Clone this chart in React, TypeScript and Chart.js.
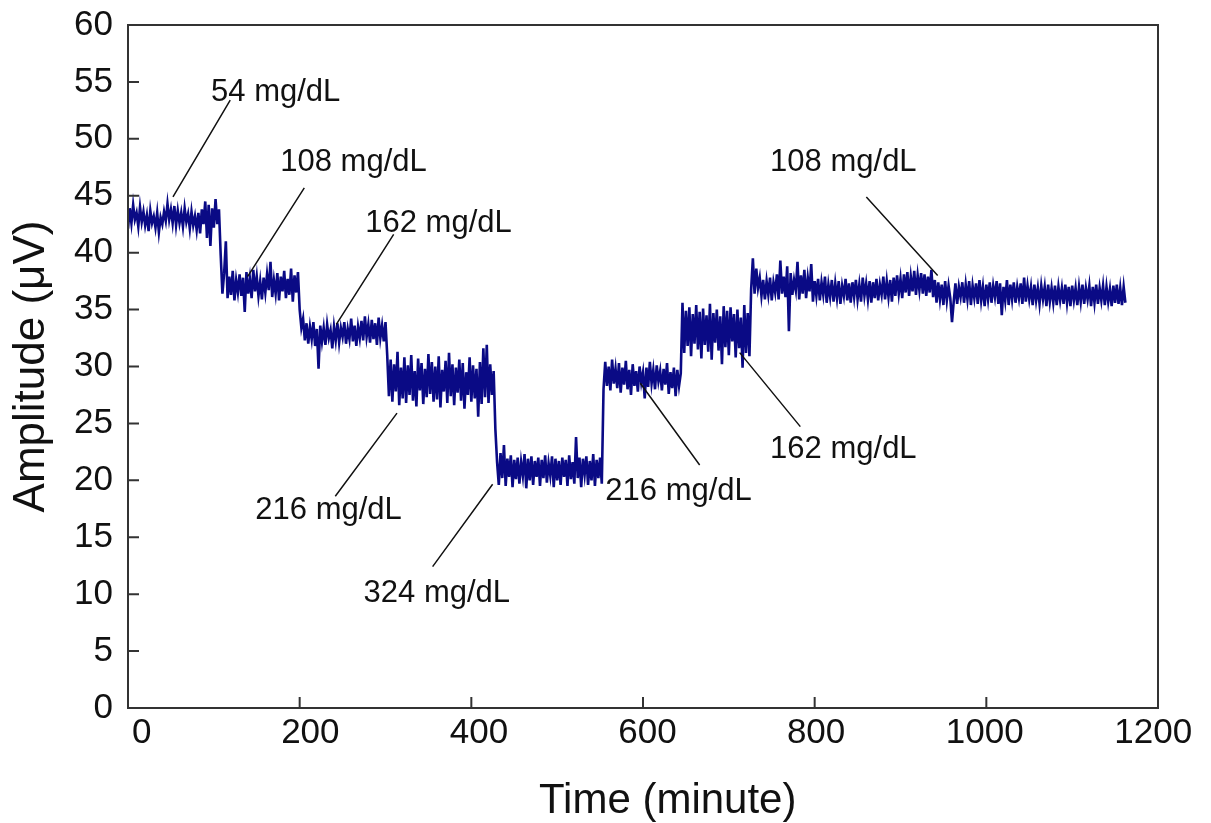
import React, { useEffect, useRef } from 'react';
import { Chart, registerables, Plugin } from 'chart.js';

Chart.register(...registerables);

const FONT = '"Liberation Sans", Arial, Helvetica, sans-serif';
const LINE_COLOR = '#0a0a85';

// amplitude (µV) sampled every 2 minutes, one array per glucose plateau
const SAMPLE_MINUTES = 2;

const level54 = [
  42.1, 43.9, 42.6, 44.2, 42.9, 43.5, 42.3, 44.0, 42.7, 43.6,
  42.4, 43.3, 41.9, 43.7, 42.6, 43.2, 42.2, 43.5, 41.8, 43.1,
  42.5, 43.6, 42.8, 44.3, 42.9, 43.8, 42.6, 44.1, 42.4, 43.7,
  42.6, 43.5, 42.3, 43.9, 42.7, 43.4, 42.1, 43.6, 42.4, 43.2,
  42.0, 43.5, 41.7, 43.8, 42.5, 44.5, 41.3, 44.2, 40.6, 43.9,
  42.2, 44.7, 42.5, 43.8,
];

const level108 = [
  39.8, 36.4, 38.2, 41.0, 36.0, 37.9, 36.3, 38.4, 35.8, 37.6,
  36.5, 38.1, 36.2, 37.8, 34.8, 38.3, 36.4, 37.7, 36.0, 38.5,
  36.6, 37.9, 36.2, 37.5, 35.9, 37.8, 36.5, 38.1, 36.7, 39.2,
  36.1, 37.6, 36.4, 38.2, 35.8, 37.9, 36.6, 38.4, 36.0, 37.7,
  36.3, 38.6, 35.7, 38.0, 36.5, 38.3,
];

const level162 = [
  35.0, 33.4, 34.2, 32.3, 33.8, 32.0, 33.5, 32.4, 33.9, 31.8,
  33.3, 29.8, 33.6, 32.2, 33.4, 31.9, 33.7, 32.5, 33.2, 31.6,
  33.5, 32.3, 33.8, 32.1, 33.4, 32.6, 33.9, 32.0, 33.3, 32.4,
  34.2, 32.2, 33.6, 31.8, 33.5, 32.5, 34.0, 32.3, 34.4, 32.6,
  33.7, 32.1, 34.1, 32.4, 33.8, 31.9, 34.3, 32.5, 33.6, 32.2,
  33.9,
];

const level216 = [
  31.0, 27.4, 30.6, 26.9, 30.2, 27.8, 31.3, 26.6, 29.9, 27.2,
  30.8, 26.8, 30.1, 27.5, 31.0, 27.0, 29.6, 26.5, 30.7, 27.9,
  30.3, 26.7, 29.8, 27.3, 31.1, 27.6, 30.4, 26.9, 30.0, 27.1,
  30.9, 26.4, 29.7, 27.8, 30.5, 26.8, 31.2, 27.4, 30.2, 26.6,
  29.9, 27.7, 30.6, 27.0, 30.3, 26.3, 29.5, 27.5, 30.8, 26.9,
  30.1, 27.2, 29.8, 25.6, 30.4, 26.7, 31.6, 27.3, 31.9, 26.8,
  30.2, 27.5, 29.6,
];

const level324 = [
  24.5, 21.6, 19.6, 22.4, 20.2, 23.1, 19.5, 21.9, 20.3, 22.2,
  19.4, 21.8, 20.1, 22.0, 19.7, 21.6, 20.4, 22.3, 19.3, 21.9,
  20.0, 22.1, 19.6, 21.7, 20.3, 22.0, 19.5, 21.8, 20.2, 22.2,
  19.8, 21.5, 20.4, 22.1, 19.4, 21.9, 20.0, 21.7, 19.6, 22.0,
  20.3, 21.8, 19.5, 22.2, 20.1, 21.6, 19.7, 23.8, 20.2, 22.0,
  19.4, 21.9, 20.5, 22.1, 19.6, 21.7, 20.0, 22.3, 19.5, 21.8,
  20.2, 22.0, 19.7,
];

const level216b = [
  28.0, 30.4, 28.3, 30.0, 27.9, 30.6, 28.5, 29.8, 28.1, 30.3,
  27.7, 29.9, 28.4, 30.5, 28.0, 29.7, 27.5, 30.2, 28.3, 29.6,
  27.8, 30.0, 28.6, 29.5, 27.2, 29.9, 28.2, 30.4, 28.5, 29.7,
  28.0, 30.1, 28.7, 29.6, 27.9, 29.8, 28.4, 30.3, 27.6, 29.5,
  28.1, 29.9, 27.4, 29.7, 28.3, 29.4,
];

const level162b = [
  35.6, 31.2, 34.9, 31.8, 35.2, 30.9, 34.6, 32.0, 35.4, 31.5,
  34.8, 30.7, 35.1, 31.9, 34.5, 31.3, 35.5, 30.6, 34.7, 32.1,
  35.0, 31.4, 34.4, 30.2, 35.3, 31.7, 34.9, 31.0, 35.2, 32.2,
  34.6, 30.8, 35.0, 31.6, 34.3, 29.9, 35.4, 31.2, 34.7, 30.9,
];

const level108b = [
  36.8, 39.5, 36.4, 38.6, 36.9, 37.8, 36.2, 37.6, 35.9, 37.5,
  36.3, 37.8, 35.8, 37.4, 36.5, 38.1, 35.9, 39.3, 36.4, 37.9,
  36.1, 38.8, 33.1, 38.2, 36.3, 37.6, 36.7, 39.2, 35.9, 38.0,
  36.4, 38.5, 36.0, 37.8, 36.6, 39.0, 35.7, 37.5, 36.2, 37.7,
  35.8, 37.4, 36.3, 37.9, 35.6, 37.2, 36.1, 37.6, 35.7, 37.3,
  36.0, 37.5, 35.5, 37.1, 36.2, 37.7, 35.8, 37.3, 35.6, 37.4,
  36.1, 37.6, 35.9, 37.2, 35.7, 37.8, 36.2, 37.3, 35.9, 37.5,
  35.6, 37.4, 36.0, 37.7, 35.8, 37.2, 36.3, 37.9, 35.9, 37.5,
  36.1, 37.6, 35.7, 37.8, 36.2, 38.0, 36.4, 37.7, 36.0, 38.1,
  36.5, 38.3, 36.2, 37.9, 36.6, 38.4, 36.3, 38.0, 36.7, 38.2,
  36.4, 38.1, 36.2, 37.9, 36.5, 38.5, 36.1, 37.6, 35.6, 37.4,
  35.9, 37.2, 35.4, 37.5, 35.8, 37.1, 36.0, 33.9, 35.7, 37.3,
  35.5, 37.0, 36.1, 37.4, 35.6, 37.2, 35.9, 37.5, 35.4, 37.1,
  36.0, 37.3, 35.5, 37.6, 35.8, 37.0, 35.3, 37.2, 35.9, 37.4,
  35.6, 37.1, 36.1, 37.5, 35.5, 37.3, 34.5, 37.0, 35.8, 37.6,
  35.4, 37.2, 35.9, 37.4, 35.6, 37.0, 36.0, 37.3, 35.5, 37.8,
  35.7, 37.1, 35.9, 37.0, 35.4, 37.2, 35.8, 36.9, 35.5, 37.1,
  35.9, 37.0, 35.3, 37.2, 35.7, 36.9, 35.6, 37.1, 35.4, 37.0,
  35.8, 36.9, 35.5, 37.2, 35.6, 37.0, 35.3, 37.1, 35.8, 36.9,
  35.4, 37.0, 35.7, 37.2, 35.5, 36.9, 35.9, 37.1, 35.3, 37.0,
  35.6, 37.2, 35.5, 36.9, 35.8, 37.1, 35.4, 37.0, 35.7, 36.8,
  35.3, 37.1, 35.6, 37.2, 35.5, 36.9, 35.4, 37.0, 35.6,
];

const signal = [
  ...level54, ...level108, ...level162, ...level216,
  ...level324, ...level216b, ...level162b, ...level108b,
];

const xTickValues = [0, 200, 400, 600, 800, 1000, 1200];

// callouts: text left edge / baseline and leader line ends, in (minute, µV)
const noteLabels = ['54 mg/dL', '108 mg/dL', '162 mg/dL', '216 mg/dL', '324 mg/dL', '216 mg/dL', '162 mg/dL', '108 mg/dL'];
const noteTextX = [96.8, 177.4, 276.4, 148.3, 274.5, 556.1, 748.1, 748.1];
const noteTextY = [53.3, 47.2, 41.85, 16.58, 9.34, 18.28, 21.94, 47.2];
const leaderFromX = [119.1, 205.4, 309.5, 313.4, 424.8, 596.9, 712.6, 860.2];
const leaderFromY = [53.4, 45.7, 41.6, 25.9, 19.66, 28.53, 31.22, 44.88];
const leaderToX = [52.4, 139.3, 242.7, 241.5, 354.9, 666.0, 783.3, 943.3];
const leaderToY = [44.9, 37.9, 33.7, 18.6, 12.42, 21.35, 24.72, 37.99];

const framePlugin: Plugin<'line'> = {
  id: 'frameAndNotes',
  afterDraw(chart) {
    const { ctx, chartArea: a, scales } = chart;
    const xs = scales.x;
    const ys = scales.y;
    ctx.save();

    // box + inward ticks
    ctx.strokeStyle = '#333';
    ctx.lineWidth = 2;
    ctx.strokeRect(a.left, a.top, a.right - a.left, a.bottom - a.top);
    ctx.beginPath();
    xs.ticks.forEach((t) => {
      const px = xs.getPixelForValue(t.value);
      ctx.moveTo(px, a.bottom);
      ctx.lineTo(px, a.bottom - 11);
    });
    ys.ticks.forEach((t) => {
      const py = ys.getPixelForValue(t.value);
      ctx.moveTo(a.left, py);
      ctx.lineTo(a.left + 11, py);
    });
    ctx.stroke();

    // leader lines
    ctx.strokeStyle = '#111';
    ctx.lineWidth = 1.5;
    ctx.beginPath();
    noteLabels.forEach((_, i) => {
      ctx.moveTo(xs.getPixelForValue(leaderFromX[i]), ys.getPixelForValue(leaderFromY[i]));
      ctx.lineTo(xs.getPixelForValue(leaderToX[i]), ys.getPixelForValue(leaderToY[i]));
    });
    ctx.stroke();

    // labels
    ctx.fillStyle = '#111';
    ctx.font = `31px ${FONT}`;
    ctx.textAlign = 'left';
    ctx.textBaseline = 'alphabetic';
    noteLabels.forEach((label, i) => {
      ctx.fillText(label, xs.getPixelForValue(noteTextX[i]), ys.getPixelForValue(noteTextY[i]));
    });

    // x axis title, sitting a little right of centre as in the source figure
    ctx.font = `42px ${FONT}`;
    ctx.textAlign = 'center';
    ctx.fillText('Time (minute)', a.left + (a.right - a.left) * 0.524, a.bottom + 105);
    ctx.restore();
  },
};

const App: React.FC = () => {
  const canvasRef = useRef<HTMLCanvasElement>(null);
  const chartRef = useRef<Chart<'line'> | null>(null);

  useEffect(() => {
    if (!canvasRef.current) return;
    if (chartRef.current) chartRef.current.destroy();

    const points = signal.map((v, i) => ({ x: i * SAMPLE_MINUTES, y: v }));

    chartRef.current = new Chart(canvasRef.current, {
      type: 'line',
      data: {
        datasets: [
          {
            label: 'Amplitude',
            data: points,
            borderColor: LINE_COLOR,
            borderWidth: 2.6,
            pointRadius: 0,
            tension: 0,
            fill: false,
          },
        ],
      },
      options: {
        animation: false,
        responsive: true,
        maintainAspectRatio: false,
        layout: { padding: { top: 25, right: 53, bottom: 0, left: 0 } },
        plugins: {
          legend: { display: false },
          tooltip: { enabled: false },
        },
        scales: {
          // data axis: tick marks only
          x: {
            type: 'linear',
            min: 0,
            max: 1200,
            afterFit: (scale) => {
              scale.height = 0;
              scale.paddingLeft = 0;
              scale.paddingRight = 0;
            },
            grid: { display: false, drawTicks: false },
            border: { display: false },
            ticks: { stepSize: 200, display: false },
          },
          // label axis: the printed numbers are spread slightly differently from the ticks
          xLabels: {
            type: 'linear',
            position: 'bottom',
            min: -16.3,
            max: 1205.6,
            afterFit: (scale) => {
              scale.height = 115;
              scale.paddingLeft = 0;
              scale.paddingRight = 0;
            },
            afterBuildTicks: (scale) => {
              scale.ticks = xTickValues.map((v) => ({ value: v }));
            },
            grid: { display: false, drawTicks: false },
            border: { display: false },
            ticks: {
              padding: 4,
              autoSkip: false,
              maxRotation: 0,
              color: '#111',
              font: { family: FONT, size: 35 },
              callback: (v) => String(v),
            },
          },
          y: {
            min: 0,
            max: 60,
            afterFit: (scale) => {
              scale.width = 128;
              scale.paddingTop = 0;
              scale.paddingBottom = 0;
            },
            grid: { display: false, drawTicks: false },
            border: { display: false },
            ticks: {
              stepSize: 5,
              padding: 15,
              color: '#111',
              font: { family: FONT, size: 35 },
            },
            title: {
              display: true,
              text: 'Amplitude (μV)',
              color: '#111',
              padding: { top: 5, bottom: 0 },
              font: { family: FONT, size: 44 },
            },
          },
        },
      },
      plugins: [framePlugin],
    });

    return () => {
      if (chartRef.current) {
        chartRef.current.destroy();
        chartRef.current = null;
      }
    };
  }, []);

  return (
    <div style={{ position: 'absolute', left: 0, top: 0, width: '1211px', height: '823px', background: '#fff' }}>
      <canvas ref={canvasRef}></canvas>
    </div>
  );
};

export default App;
